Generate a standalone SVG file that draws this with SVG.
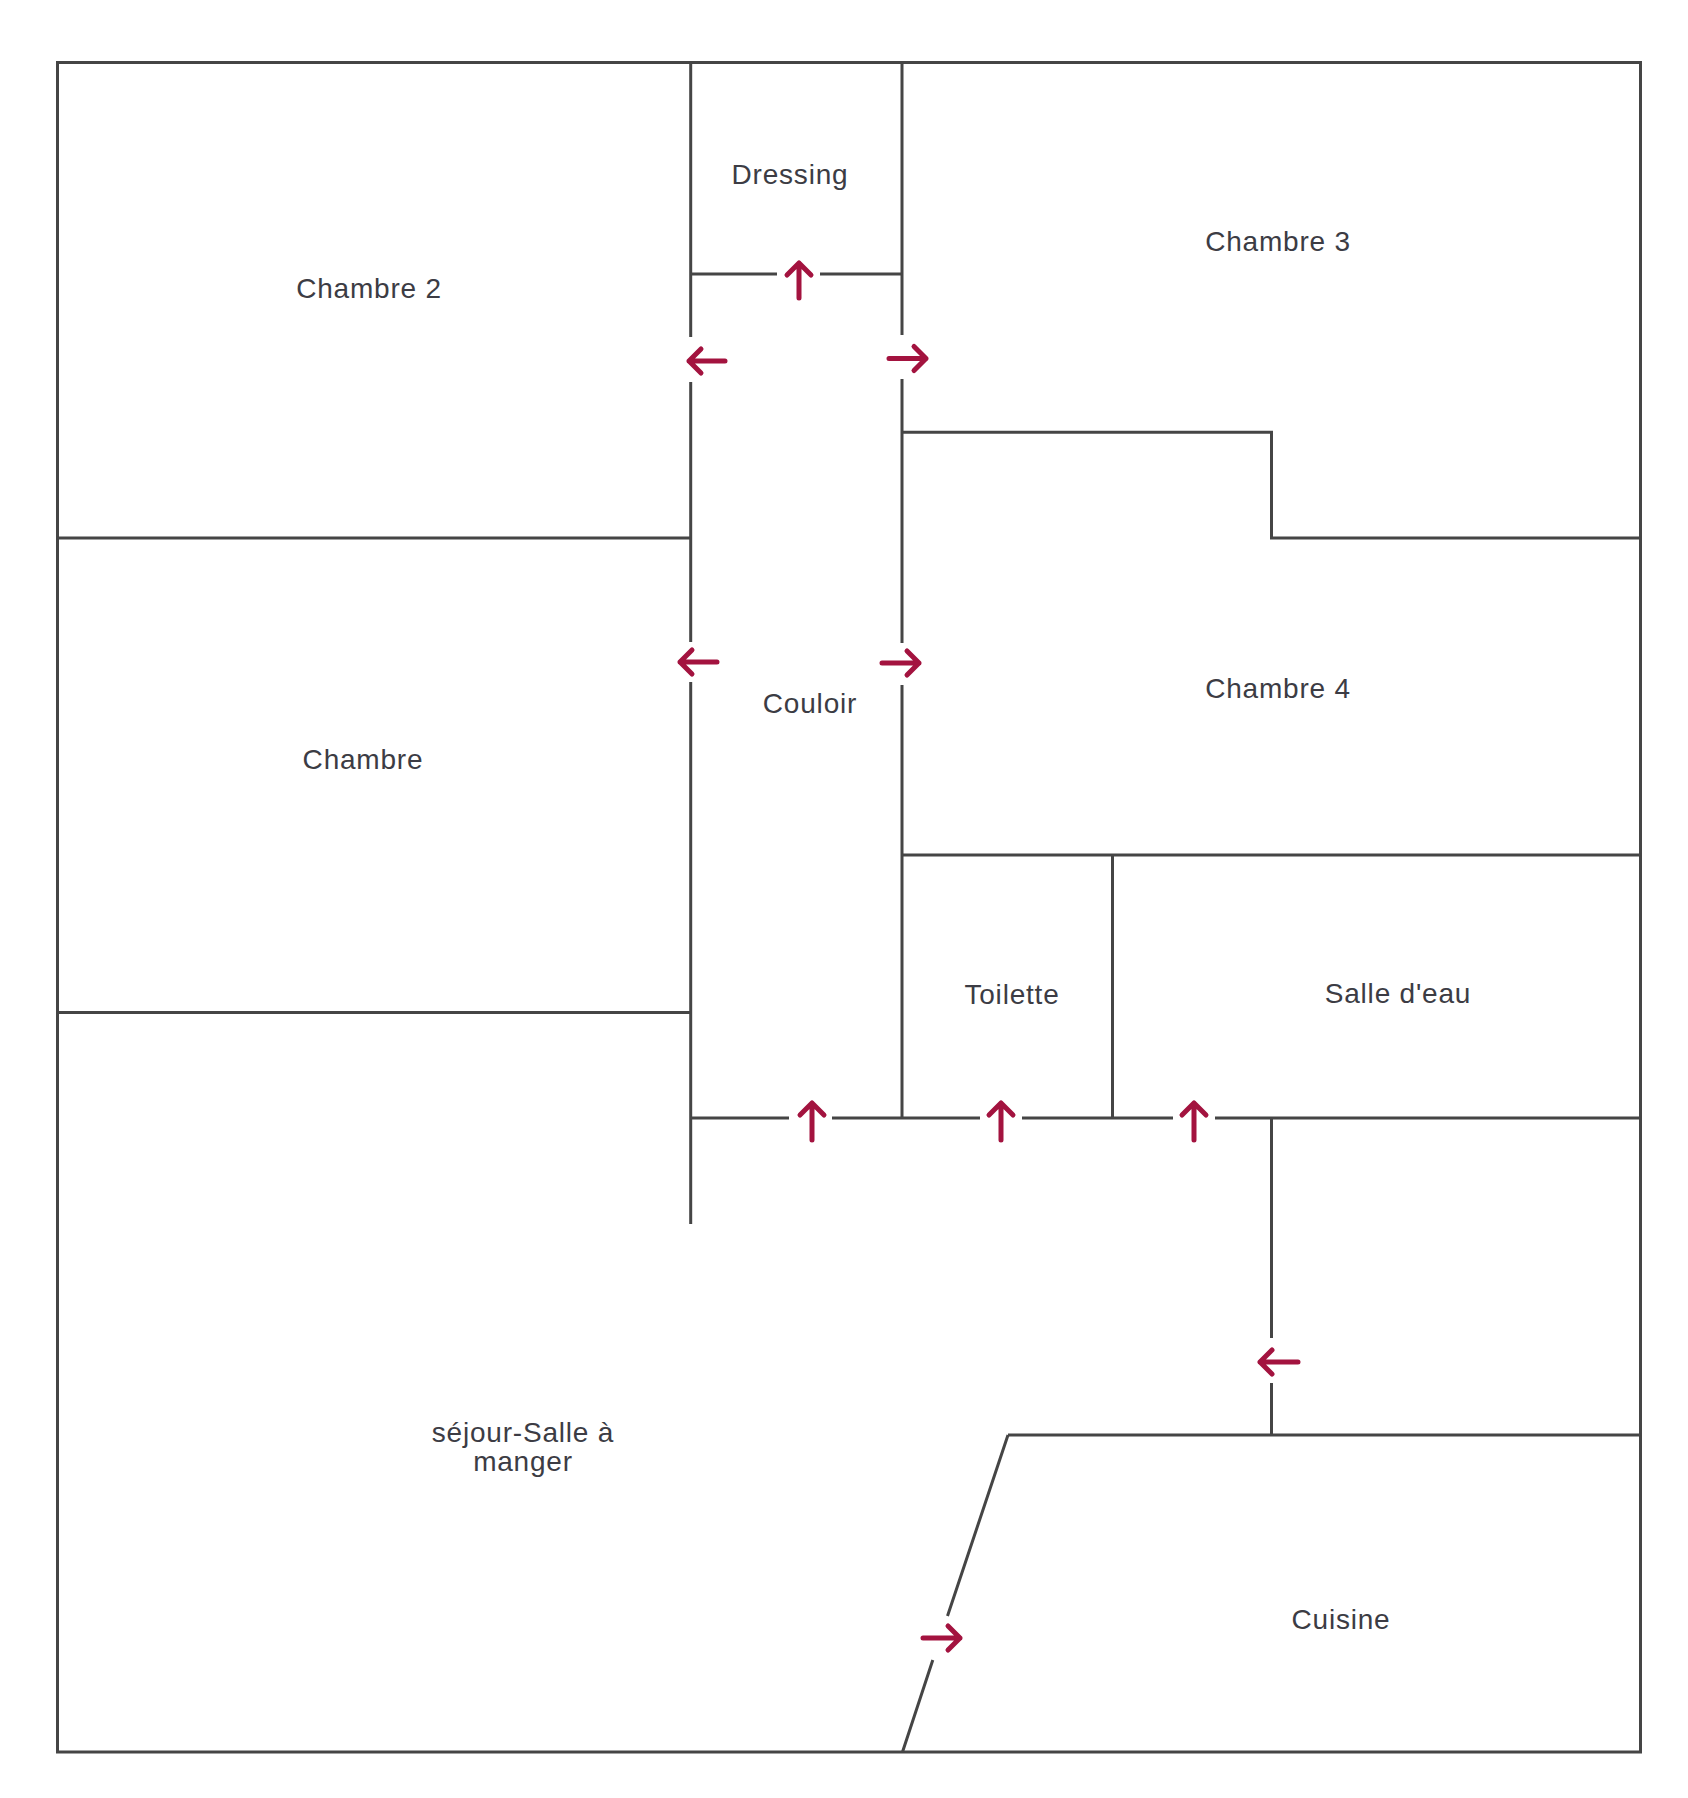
<svg xmlns="http://www.w3.org/2000/svg" width="1688" height="1798" viewBox="0 0 1688 1798">
<style>
.wall{fill:none;stroke:#454545;stroke-width:3;stroke-linecap:butt;stroke-linejoin:miter}
.door{fill:none;stroke:#a3133f;stroke-width:5;stroke-linecap:round;stroke-linejoin:round}
.lbl{font-family:"Liberation Sans",Arial,sans-serif;font-size:28px;letter-spacing:0.8px;fill:#3c3c44;text-anchor:middle}
</style>
<rect width="1688" height="1798" fill="#ffffff"/>
<g id="walls">
<rect class="wall" x="57.5" y="62.5" width="1583" height="1689.5"/>
<path class="wall" d="M690.7,62.5V337M690.7,382V642M690.7,682V1224"/>
<path class="wall" d="M902,62.5V335M902,379V643M902,685V1118"/>
<path class="wall" d="M690.7,274H777M820,274H902"/>
<path class="wall" d="M57.5,538H690.7"/>
<path class="wall" d="M57.5,1012.6H690.7"/>
<path class="wall" d="M902,432.3H1271.5V538H1640.5"/>
<path class="wall" d="M902,855H1640.5"/>
<path class="wall" d="M1112.5,855V1118"/>
<path class="wall" d="M690.7,1118H789M832,1118H980M1022,1118H1173M1215,1118H1640.5"/>
<path class="wall" d="M1271.5,1118V1338M1271.5,1383V1435"/>
<path class="wall" d="M1008,1435H1640.5"/>
<path class="wall" d="M1008,1435L947.5,1616M932.8,1660L902.5,1752"/>
</g>
<g id="doors">
<path class="door" d="M799,298V263M787,275L799,263L811,275"/>
<path class="door" d="M725,361H689M701,349L689,361L701,373"/>
<path class="door" d="M889,358.5H926M914,346.5L926,358.5L914,370.5"/>
<path class="door" d="M717,662H680M692,650L680,662L692,674"/>
<path class="door" d="M882,663H919M907,651L919,663L907,675"/>
<path class="door" d="M812,1140V1103M800,1115L812,1103L824,1115"/>
<path class="door" d="M1001,1140V1103M989,1115L1001,1103L1013,1115"/>
<path class="door" d="M1194,1140V1103M1182,1115L1194,1103L1206,1115"/>
<path class="door" d="M1298,1362H1260M1272,1350L1260,1362L1272,1374"/>
<path class="door" d="M923,1638H960M948,1626L960,1638L948,1650"/>
</g>
<g id="room-dressing"><text class="lbl" x="790" y="184">Dressing</text></g>
<g id="room-chambre2"><text class="lbl" x="369" y="298">Chambre 2</text></g>
<g id="room-chambre3"><text class="lbl" x="1278" y="251">Chambre 3</text></g>
<g id="room-couloir"><text class="lbl" x="810" y="713">Couloir</text></g>
<g id="room-chambre"><text class="lbl" x="363" y="769">Chambre</text></g>
<g id="room-chambre4"><text class="lbl" x="1278" y="698">Chambre 4</text></g>
<g id="room-toilette"><text class="lbl" x="1012" y="1004">Toilette</text></g>
<g id="room-salle-eau"><text class="lbl" x="1398" y="1003">Salle d'eau</text></g>
<g id="room-sejour"><text class="lbl" x="523" y="1442">séjour-Salle à</text><text class="lbl" x="523" y="1471">manger</text></g>
<g id="room-cuisine"><text class="lbl" x="1341" y="1629">Cuisine</text></g>
</svg>
